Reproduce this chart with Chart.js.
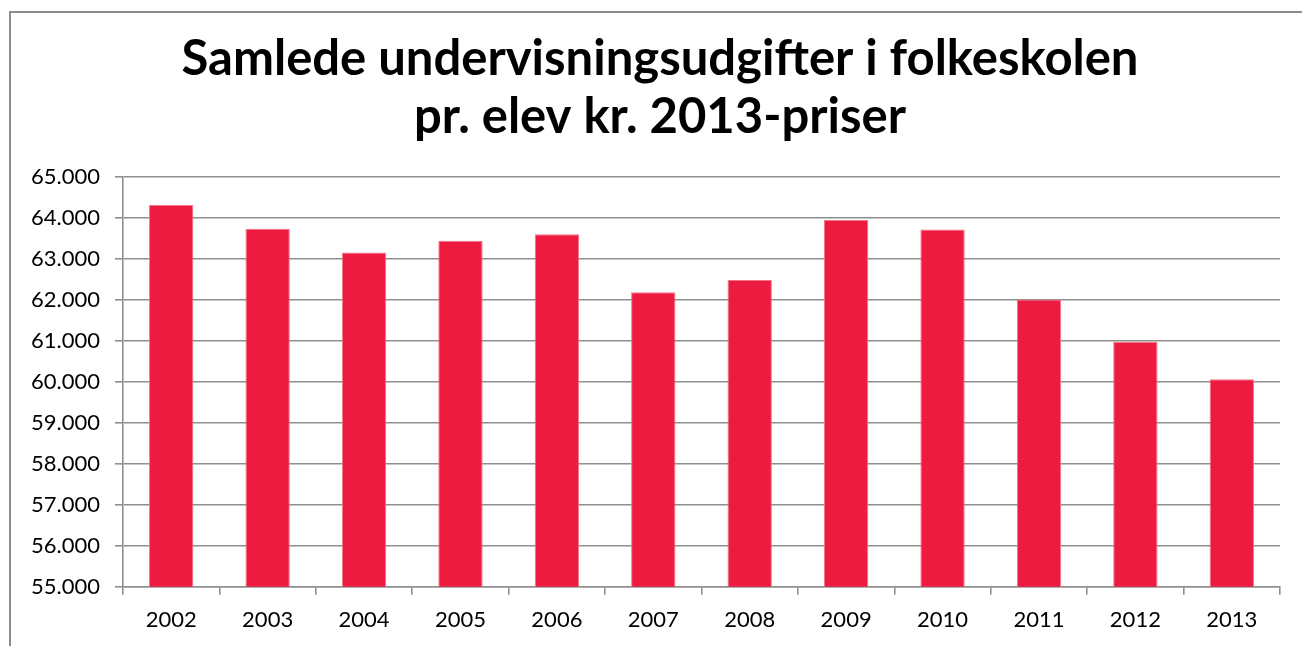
<!DOCTYPE html>
<html>
<head>
<meta charset="utf-8">
<script src="https://cdn.jsdelivr.net/npm/chart.js@4"></script>
<style>
    html, body { margin: 0; padding: 0; background: #fff; overflow: hidden; }
    #wrap { position: relative; width: 1302px; height: 646px; }
    #frame {
        position: absolute; left: 9px; top: 11px; width: 1400px; height: 800px;
        border: 2px solid #8c8c8c; pointer-events: none;
    }
</style>
</head>
<body>
<div id="wrap">
    <canvas id="chart" width="1302" height="646"></canvas>
    <div id="frame"></div>
</div>
<script>
// Data
const years = ['2002', '2003', '2004', '2005', '2006', '2007', '2008', '2009', '2010', '2011', '2012', '2013'];
const spendPerPupil = [64310, 63730, 63150, 63440, 63600, 62180, 62480, 63945, 63715, 62005, 60975, 60060];
const titleLines = ['Samlede undervisningsudgifter i folkeskolen', 'pr. elev kr. 2013-priser'];
const yMin = 55000;
const yMax = 65000;
const yStep = 1000;

// 65000 -> "65.000"
function formatDanish(v) {
    return String(Math.round(v)).replace(/\B(?=(\d{3})+(?!\d))/g, '.');
}

const gridColor = '#8f8f8f';

const ctx = document.getElementById('chart').getContext('2d');
new Chart(ctx, {
    type: 'bar',
    data: {
        labels: years,
        datasets: [{
            data: spendPerPupil,
            backgroundColor: '#ED1B3F',
            borderColor: '#F27489',
            borderWidth: 1,
            categoryPercentage: 1,
            barPercentage: 0.46
        }]
    },
    options: {
        responsive: false,
        animation: false,
        devicePixelRatio: 1,
        layout: { padding: { left: 20, right: 2, top: 0, bottom: 0 } },
        plugins: {
            legend: { display: false },
            tooltip: { enabled: false },
            title: {
                display: true,
                text: titleLines,
                color: '#000',
                font: { family: 'Lato', size: 49, weight: 'bold', lineHeight: 1.184 },
                padding: { top: 30, bottom: 30.7 }
            }
        },
        scales: {
            x: {
                grid: {
                    display: true,
                    drawOnChartArea: false,
                    drawTicks: true,
                    tickLength: 8,
                    color: gridColor,
                    lineWidth: 1.6
                },
                border: { display: true, color: gridColor, width: 1.6 },
                ticks: {
                    color: '#000',
                    font: { family: 'Lato', size: 22 },
                    padding: 12,
                    maxRotation: 0
                },
                afterFit: (scale) => { scale.height = 59.3; }
            },
            y: {
                min: yMin,
                max: yMax,
                grid: {
                    color: gridColor,
                    lineWidth: 1.6,
                    tickLength: 8
                },
                border: { display: true, color: gridColor, width: 1.6 },
                ticks: {
                    stepSize: yStep,
                    color: '#000',
                    font: { family: 'Lato', size: 22 },
                    padding: 15,
                    callback: (v) => formatDanish(v)
                },
                afterFit: (scale) => { scale.width = 103; }
            },
            // empty right-hand spacer so the plot ends where the reference does
            spacer: {
                type: 'linear',
                position: 'right',
                display: true,
                grid: { display: false },
                border: { display: false },
                ticks: { display: false },
                afterFit: (scale) => { scale.width = 20; }
            }
        }
    }
});
</script>
</body>
</html>
